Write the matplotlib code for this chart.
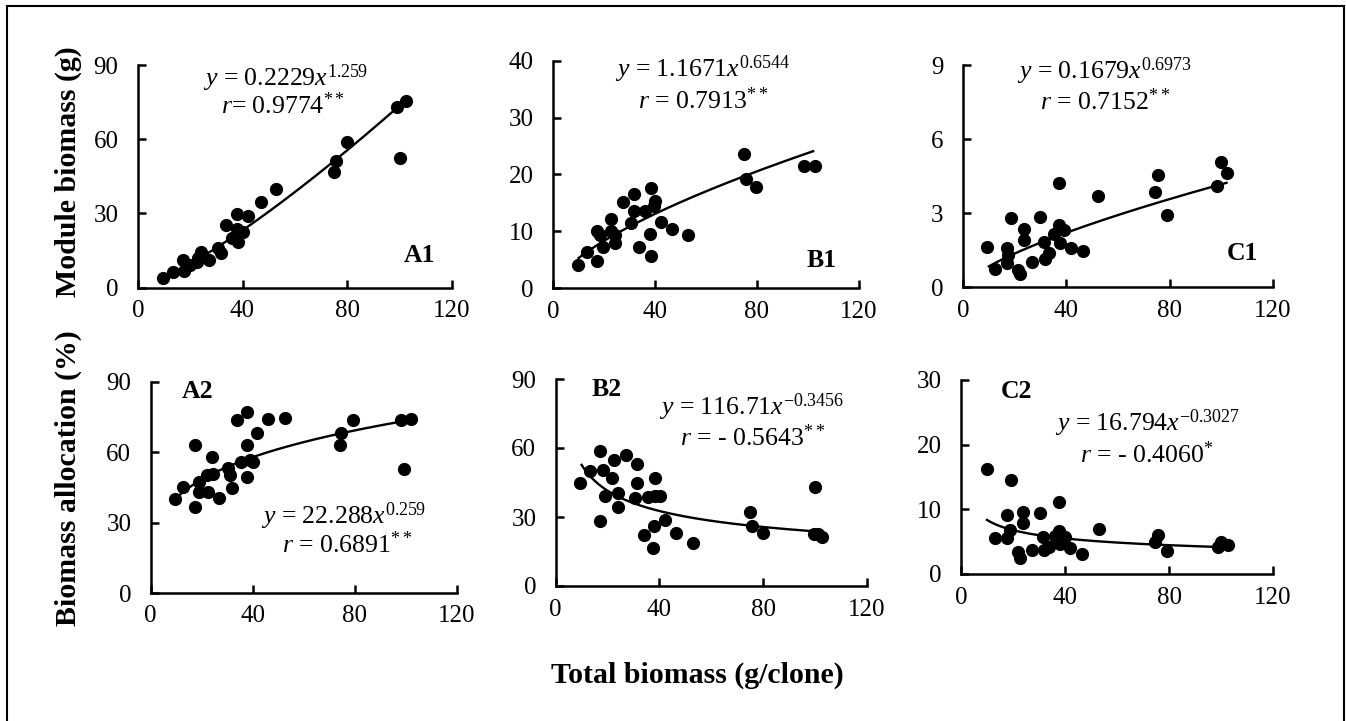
import numpy as np
import matplotlib
matplotlib.use("Agg")
import matplotlib.pyplot as plt
from matplotlib.patches import Rectangle

plt.rcParams['font.family'] = 'Liberation Serif'
plt.rcParams['mathtext.fontset'] = 'custom'
plt.rcParams['mathtext.rm'] = 'Liberation Serif'
plt.rcParams['mathtext.it'] = 'Liberation Serif:italic'

W, H = 1346, 721

# A1: module biomass A (g)
a1_x = [9.7, 13.3, 17.3, 17.7, 19.9, 22.5, 24.1, 23.1, 27.3, 30.7, 31.8, 33.7, 35.9,
        37.8, 38.0, 38.4, 40.3, 42.2, 47.1, 52.8, 75.0, 75.8, 79.9, 99.0, 102.6, 100.3]
a1_y = [4.0, 6.5, 11.2, 6.9, 9.2, 10.5, 14.6, 11.9, 11.2, 15.9, 13.9, 25.3, 20.0,
        29.7, 23.6, 18.6, 22.6, 29.0, 34.5, 39.8, 46.9, 51.3, 58.8, 73.2, 75.6, 52.3]

# B1
b1_x = [9.8, 13.4, 17.3, 17.4, 18.4, 19.7, 22.6, 22.6, 24.3, 24.5, 27.3, 30.6, 31.9, 31.9,
        33.7, 36.1, 38.0, 38.3, 38.4, 40.0, 39.6, 42.4, 46.6, 53.1, 75.0, 75.7, 79.7, 98.6, 102.6]
b1_y = [4.1, 6.4, 4.7, 10.1, 9.4, 7.3, 12.1, 10.0, 9.4, 7.9, 15.1, 11.4, 16.6, 13.6,
        7.2, 13.5, 9.5, 5.6, 17.6, 15.3, 14.5, 11.7, 10.3, 9.4, 23.5, 19.2, 17.7, 21.5, 21.5]

# C1
c1_x = [9.2, 12.4, 16.9, 18.5, 17.5, 16.9, 21.4, 22.0, 23.7, 23.7, 26.7, 29.9, 31.2, 31.6,
        33.1, 35.4, 37.3, 37.1, 37.7, 39.2, 41.8, 46.3, 52.4, 74.4, 75.4, 79.1, 98.4, 99.7, 102.2]
c1_y = [1.62, 0.72, 1.60, 2.81, 1.29, 0.97, 0.70, 0.54, 2.37, 1.89, 1.01, 2.84, 1.83, 1.15,
        1.38, 2.14, 4.22, 2.53, 1.79, 2.30, 1.60, 1.46, 3.69, 3.86, 4.56, 2.91, 4.10, 5.07, 4.63]

# A2: allocation (%)
a2_x = [9.5, 12.8, 17.4, 17.4, 19.0, 19.0, 22.6, 21.9, 23.9, 24.3, 26.9, 30.4, 31.1, 31.7, 33.7,
        35.6, 37.6, 37.6, 37.6, 38.9, 40.2, 41.8, 46.1, 52.6, 74.2, 74.8, 79.4, 98.0, 99.3, 102.0]
a2_y = [40.1, 45.4, 63.1, 36.8, 47.5, 43.2, 43.2, 50.3, 58.1, 50.8, 40.4, 53.2, 50.3, 44.7, 73.8,
        56.0, 77.3, 63.1, 49.6, 56.7, 56.0, 68.1, 74.1, 74.8, 63.1, 68.1, 73.8, 73.8, 52.8, 74.2]

# B2
b2_x = [9.5, 13.1, 17.2, 17.0, 18.3, 19.2, 22.4, 21.8, 24.0, 24.0, 27.0, 31.5, 31.2, 30.5, 38.3,
        35.6, 38.3, 40.3, 42.3, 38.0, 33.9, 37.7, 46.4, 52.9, 75.0, 75.6, 79.8, 100.2, 99.6, 101.3, 102.8]
b2_y = [44.9, 50.0, 58.8, 28.4, 50.4, 39.1, 54.8, 46.8, 40.3, 34.2, 57.0, 52.9, 44.7, 38.1, 46.8,
        38.8, 39.1, 39.3, 28.7, 26.2, 22.2, 16.4, 22.9, 18.6, 32.3, 26.1, 23.2, 42.9, 22.6, 22.6, 21.4]

# C2
c2_x = [9.9, 19.2, 13.1, 17.6, 17.6, 18.8, 22.0, 22.7, 24.0, 24.0, 27.2, 30.4, 31.7, 31.9, 33.9,
        37.8, 37.8, 36.2, 38.1, 40.0, 41.9, 46.7, 53.2, 75.6, 74.6, 79.3, 100.0, 98.7, 102.6]
c2_y = [16.3, 14.5, 5.5, 9.1, 5.5, 6.8, 3.4, 2.4, 9.6, 7.9, 3.7, 9.4, 5.7, 3.7, 4.1,
        11.2, 6.7, 5.9, 4.7, 5.7, 4.0, 3.1, 6.9, 6.1, 5.0, 3.6, 5.0, 4.2, 4.5]

# power-law fits printed on the chart: (a, b)
fits = {'A1': (0.2229, 1.259), 'B1': (1.1671, 0.6544), 'C1': (0.1679, 0.6973),
        'A2': (22.288, 0.259), 'B2': (116.71, -0.3456), 'C2': (16.794, -0.3027)}
eq_text = {'A1': (r'$\mathit{y}$ = 0.2229$\mathit{x}^{1.259}$', r'$\mathit{r}$= 0.9774$^{**}$'),
           'B1': (r'$\mathit{y}$ = 1.1671$\mathit{x}^{0.6544}$', r'$\mathit{r}$ = 0.7913$^{**}$'),
           'C1': (r'$\mathit{y}$ = 0.1679$\mathit{x}^{0.6973}$', r'$\mathit{r}$ = 0.7152$^{**}$'),
           'A2': (r'$\mathit{y}$ = 22.288$\mathit{x}^{0.259}$', r'$\mathit{r}$ = 0.6891$^{**}$'),
           'B2': (r'$\mathit{y}$ = 116.71$\mathit{x}^{-0.3456}$', r'$\mathit{r}$ = - 0.5643$^{**}$'),
           'C2': (r'$\mathit{y}$ = 16.794$\mathit{x}^{-0.3027}$', r'$\mathit{r}$ = - 0.4060$^{*}$')}
yticks = {'A1': [0, 30, 60, 90], 'B1': [0, 10, 20, 30, 40], 'C1': [0, 3, 6, 9],
          'A2': [0, 30, 60, 90], 'B2': [0, 30, 60, 90], 'C2': [0, 10, 20, 30]}
data = {'A1': (a1_x, a1_y), 'B1': (b1_x, b1_y), 'C1': (c1_x, c1_y),
        'A2': (a2_x, a2_y), 'B2': (b2_x, b2_y), 'C2': (c2_x, c2_y)}

# pixel boxes: x0, x1, ybottom, ytop
boxes = {'A1': (138, 451.5, 287.7, 65), 'B1': (553, 859, 288, 60.7), 'C1': (963, 1273, 287, 65),
         'A2': (150.7, 456.7, 593, 382), 'B2': (555.7, 866.7, 586, 379), 'C2': (961, 1273, 574, 380)}
# text positions (pixels): eq line1, eq line2, panel label
eq_pos = {'A1': ((285, 78), (283, 106)), 'B1': ((703, 69), (703, 101)), 'C1': ((1105, 71), (1105, 102)),
          'A2': ((343, 516), (347, 545)), 'B2': ((752, 407), (753, 438)), 'C2': ((1148, 423), (1147, 455))}
lab_pos = {'A1': (420, 255), 'B1': (822, 260), 'C1': (1242, 253),
           'A2': (198, 392), 'B2': (607, 390), 'C2': (1017, 392)}

fig = plt.figure(figsize=(W / 100, H / 100), dpi=100)

def fx(px):
    return px / W

def fy(py):
    return 1 - py / H

for key in ['A1', 'B1', 'C1', 'A2', 'B2', 'C2']:
    x0, x1, yb, yt = boxes[key]
    ax = fig.add_axes([fx(x0), fy(yb), (x1 - x0) / W, (yb - yt) / H])
    xs, ys = data[key]
    ax.scatter(xs, ys, s=72, color='black', zorder=3, clip_on=False)
    a, b = fits[key]
    xf = np.linspace(10, 102, 200)
    ax.plot(xf, a * xf ** b, color='black', lw=1.7)
    ax.set_xlim(0, 120)
    ax.set_ylim(yticks[key][0], yticks[key][-1])
    ax.set_xticks([0, 40, 80, 120])
    ax.set_yticks(yticks[key])
    for s in ['top', 'right']:
        ax.spines[s].set_visible(False)
    for s in ['left', 'bottom']:
        ax.spines[s].set_linewidth(1.8)
    ax.tick_params(axis='both', direction='in', length=6, width=1.8, labelsize=18)
    ax.tick_params(axis='y', pad=14)
    ax.tick_params(axis='x', pad=9)
    ax.patch.set_alpha(0)
    l1, l2 = eq_text[key]
    (ex1, ey1), (ex2, ey2) = eq_pos[key]
    fig.text(fx(ex1), fy(ey1), l1, ha='center', va='center', fontsize=18.5)
    fig.text(fx(ex2), fy(ey2), l2, ha='center', va='center', fontsize=18.5)
    lx, ly = lab_pos[key]
    fig.text(fx(lx), fy(ly), key, ha='center', va='center', fontsize=18.5, fontweight='bold')

fig.text(fx(68), fy(172), 'Module biomass (g)', rotation=90, ha='center', va='center',
         fontsize=21.5, fontweight='bold')
fig.text(fx(68), fy(478), 'Biomass allocation (%)', rotation=90, ha='center', va='center',
         fontsize=21.5, fontweight='bold')
fig.text(fx(697), fy(675), 'Total biomass (g/clone)', ha='center', va='center',
         fontsize=21.5, fontweight='bold')

fig.patches.append(Rectangle((fx(7), fy(725)), (1344 - 7) / W, (725 - 6) / H, fill=False,
                             edgecolor='black', lw=1.5, transform=fig.transFigure))

fig.savefig('out.png', dpi=100)
